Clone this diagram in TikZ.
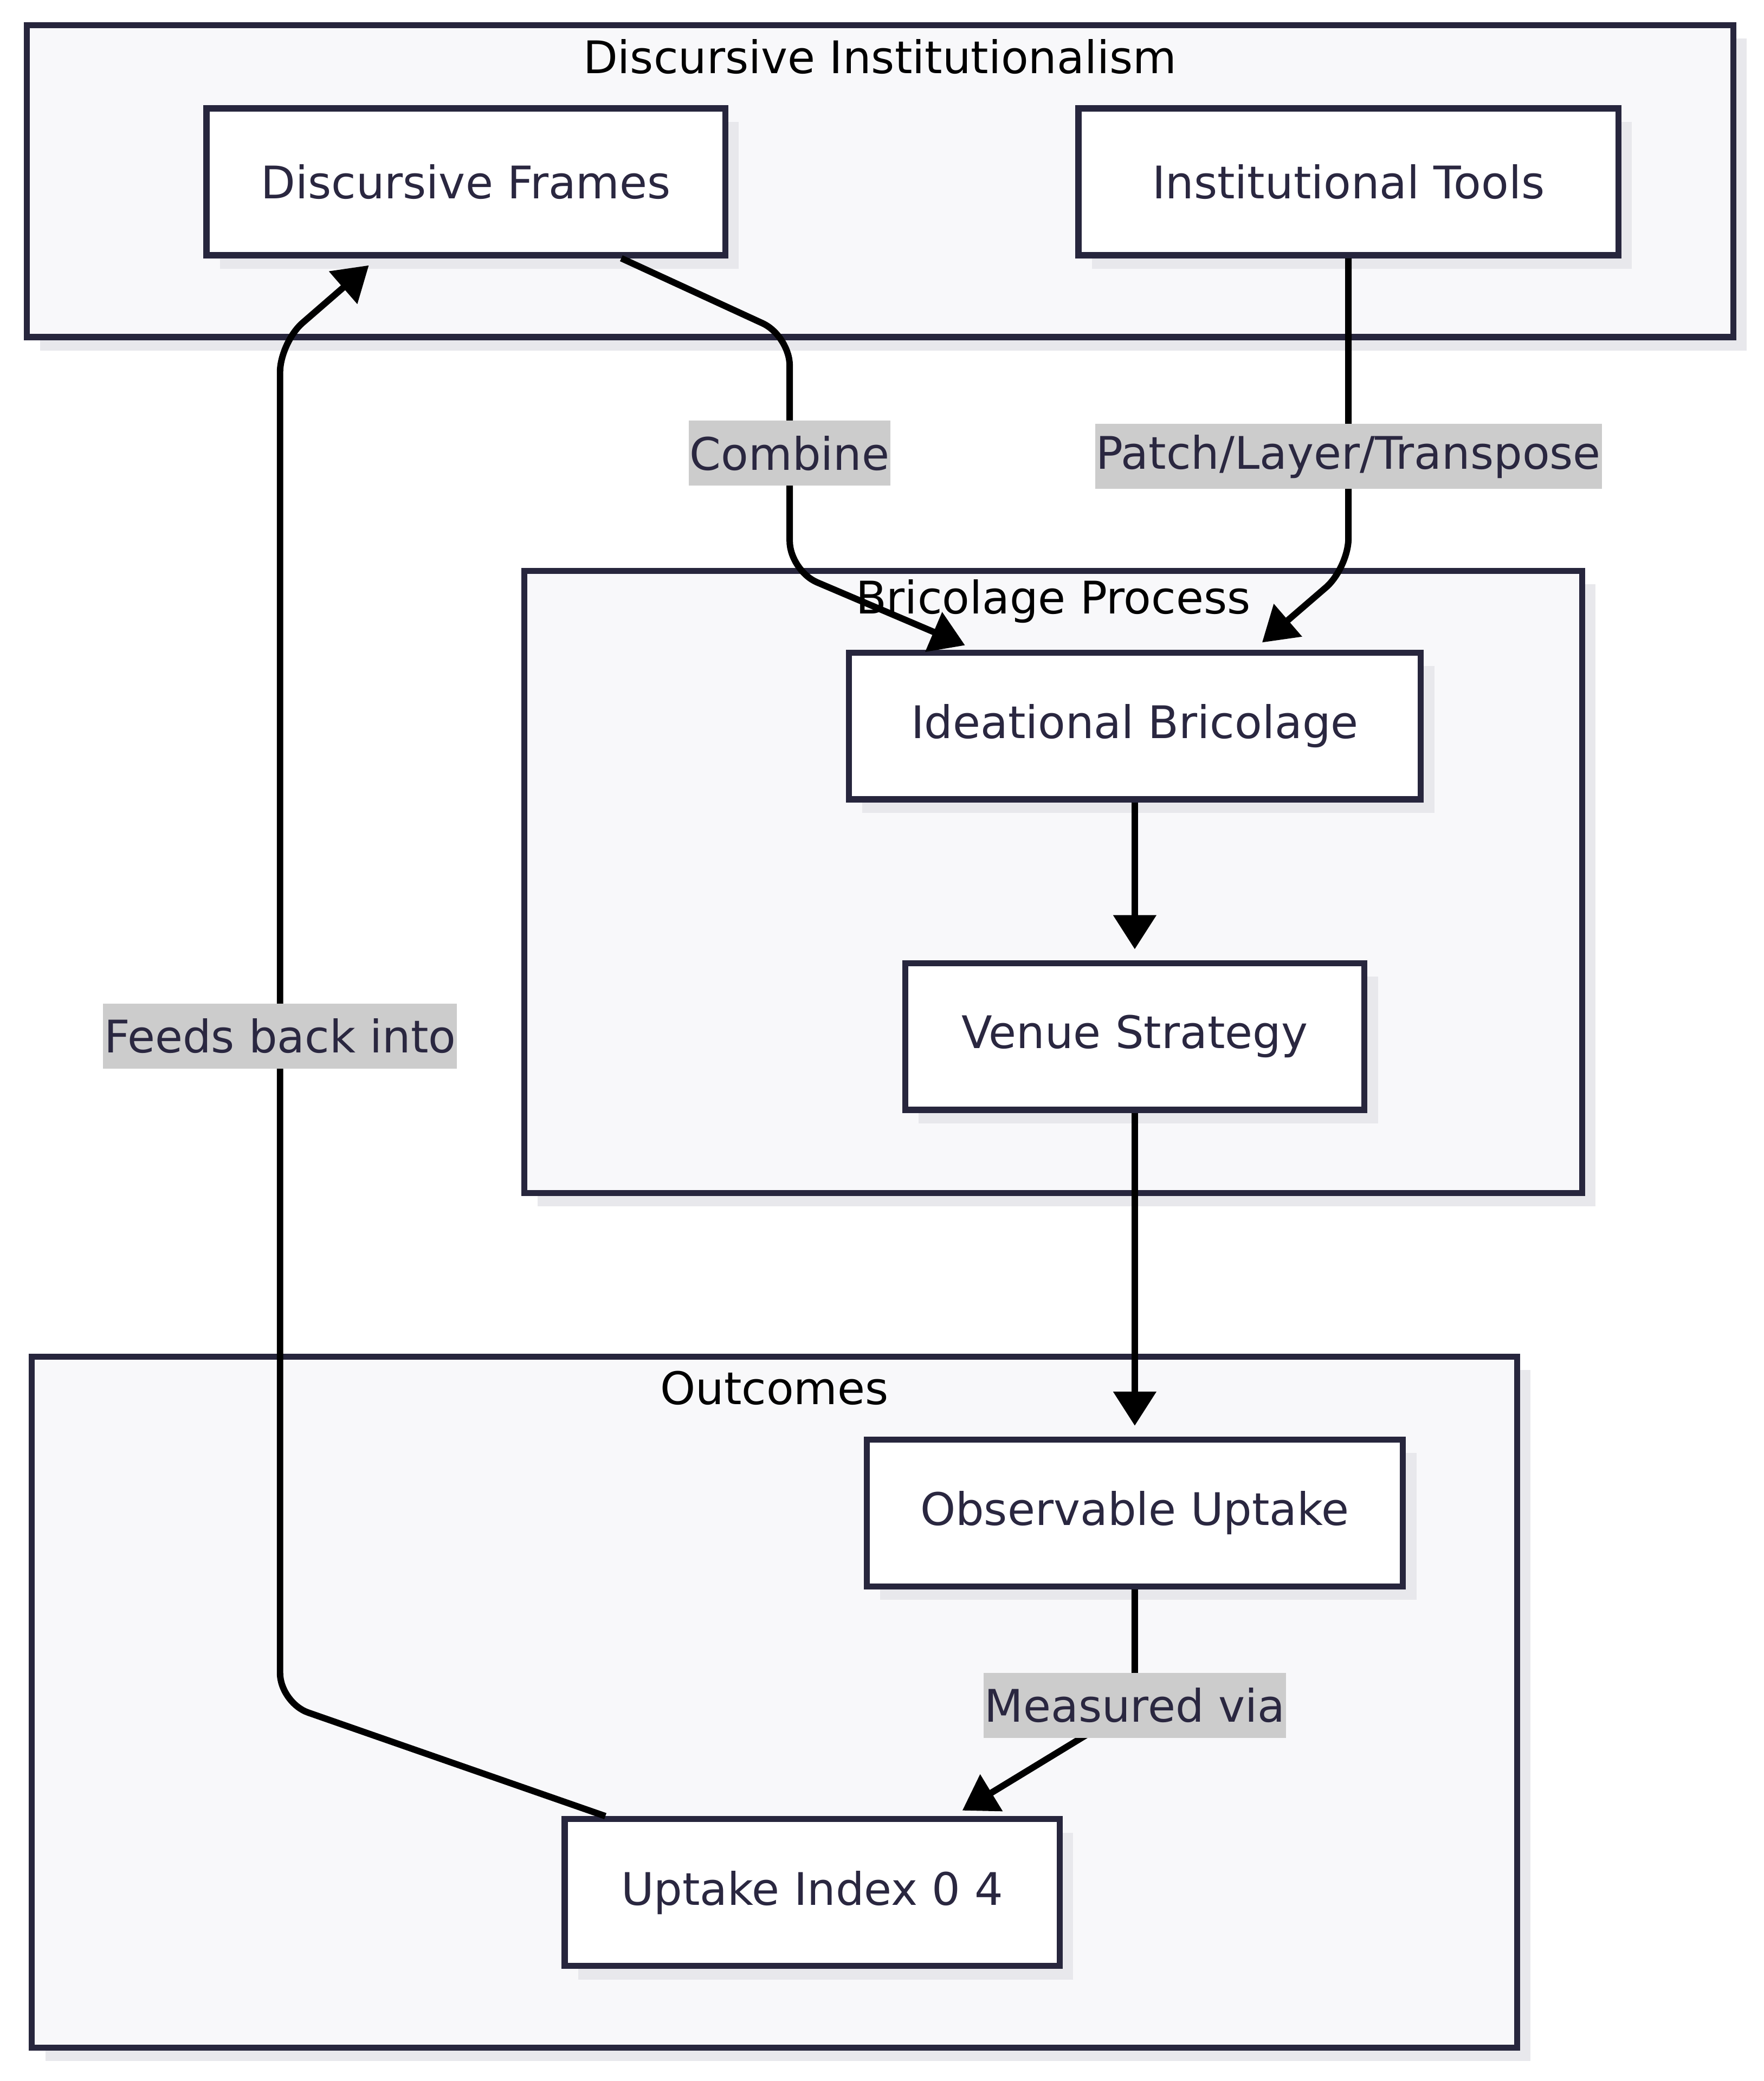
\documentclass[tikz,border=0pt]{standalone}
\usepackage{fontspec}
\setmainfont{DejaVu Sans}
\usetikzlibrary{arrows.meta,calc}
\definecolor{navy}{RGB}{39,38,61}
\definecolor{inknavy}{RGB}{42,39,64}
\definecolor{softgrey}{RGB}{248,248,250}
\definecolor{shadowgrey}{RGB}{232,232,236}
\definecolor{labelgrey}{RGB}{204,204,204}

\begin{document}
\begin{tikzpicture}[x=0.0245cm,y=-0.0245cm,
    every node/.style={font=\fontsize{23.6}{28}\selectfont},
    shadowed/.style={preaction={fill=shadowgrey,draw=none,transform canvas={shift={(0.25cm,-0.25cm)}}}},
    group/.style={draw=navy,line width=3.2pt,fill=softgrey,shadowed,inner sep=0pt},
    grouptitle/.style={text=black,inner sep=0pt},
    box/.style={draw=navy,line width=3.2pt,fill=white,shadowed,text=inknavy,inner sep=0pt,minimum height=2.71cm},
    edge/.style={line width=3.4pt,rounded corners=0.55cm,-{Triangle[length=0.63cm,width=0.77cm]},shorten >=0.2cm},
    lbl/.style={sharp corners,fill=labelgrey,text=inknavy,inner xsep=0.02cm,inner ysep=0pt,minimum height=1.2cm}]
    \useasboundingbox (0,0) rectangle (1329,1568);
    % groups
    \node[group,minimum width=31.51cm,minimum height=5.76cm] (gdi) at (663,136.5) {};
    \node[group,minimum width=19.53cm,minimum height=11.49cm] (gbp) at (793.5,664.5) {};
    \node[group,minimum width=27.42cm,minimum height=12.76cm] (gout) at (583.5,1282.5) {};
    \node[grouptitle] at ([yshift=-0.64cm]gdi.north) {Discursive Institutionalism};
    \node[grouptitle] at ([yshift=-0.62cm]gbp.north) {Bricolage Process};
    \node[grouptitle] at ([yshift=-0.64cm]gout.north) {Outcomes};
    % boxes
    \node[box,minimum width=9.58cm] (df) at (351,137) {Discursive Frames};
    \node[box,minimum width=9.97cm] (it) at (1016,137) {Institutional Tools};
    \node[box,minimum width=10.56cm] (ib) at (855,547) {Ideational Bricolage};
    \node[box,minimum width=8.48cm] (vs) at (855,781) {Venue Strategy};
    \node[box,minimum width=9.90cm] (ou) at (855,1140) {Observable Uptake};
    \node[box,minimum width=9.14cm] (ui) at (612,1426) {Uptake Index 0 4};
    % bends
    \coordinate (c1a) at (595,253);
    \coordinate (c1b) at (595,430);
    \coordinate (c2) at (1016,428);
    \coordinate (c5) at (855,1285);
    \coordinate (c6a) at (211,1283);
    \coordinate (c6b) at (211,258);
    % edges
    \draw[edge] ([xshift=2.87cm]df.south) -- (c1a) -- node[lbl] {Combine} (c1b) -- ([xshift=-2.95cm]ib.north);
    \draw[edge] (it.south) -- node[lbl,pos=0.64] {Patch/Layer/Transpose} (c2) -- ([xshift=2.2cm]ib.north);
    \draw[edge] (ib) -- (vs);
    \draw[edge] (vs) -- (ou);
    \draw[edge] (ou.south) -- (c5) -- ([xshift=2.6cm]ui.north);
    \node[lbl] (lmv) at (c5) {Measured via};
    \draw[edge] ([xshift=-3.82cm]ui.north) -- (c6a) -- node[lbl,pos=0.49] {Feeds back into} (c6b) -- ([xshift=-1.64cm]df.south);
\end{tikzpicture}
\end{document}
